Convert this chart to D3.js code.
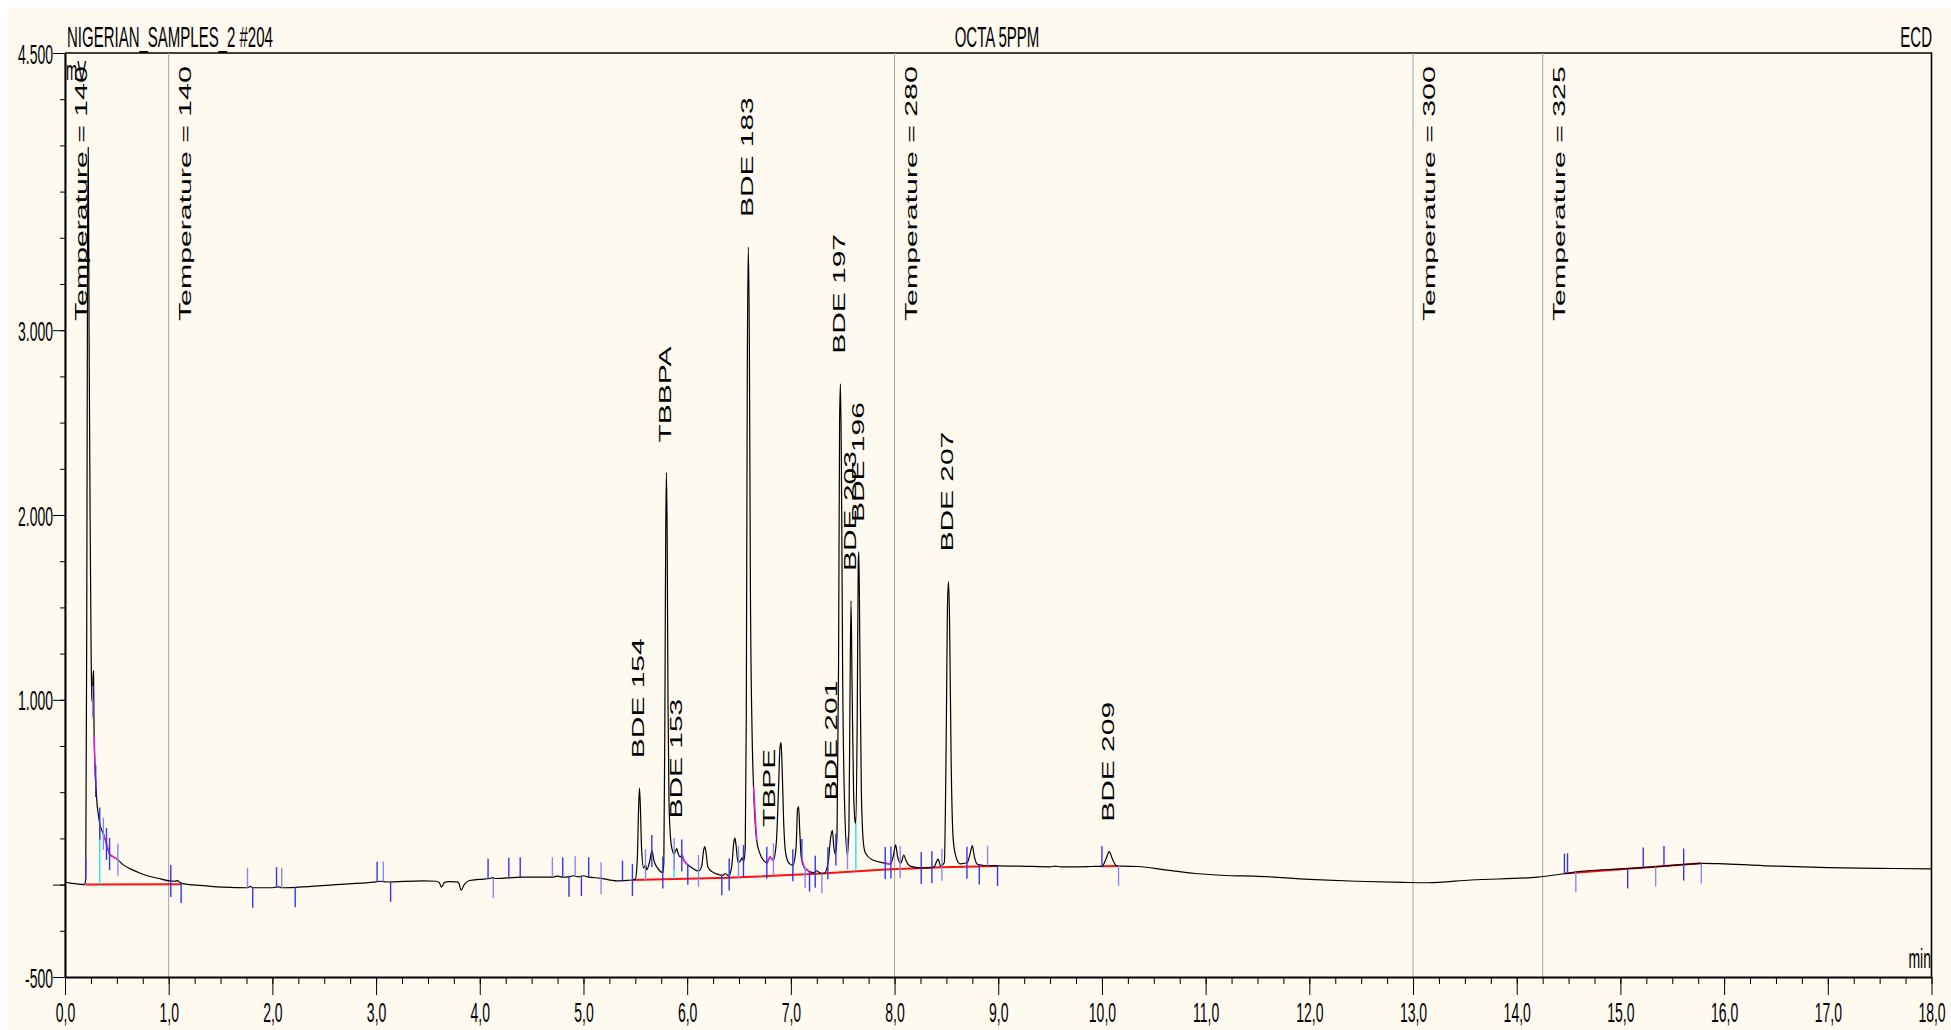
<!DOCTYPE html>
<html>
<head>
<meta charset="utf-8">
<script src="https://cdn.jsdelivr.net/npm/d3@7"></script>
<style>
  body { margin: 0; background: #fff; }
  svg { display: block; }
</style>
</head>
<body>
<div class="chart"></div>
<script>
var W = 1951, H = 1030;

// header texts
var sampleName = "NIGERIAN_SAMPLES_2 #204",
    methodName = "OCTA 5PPM",
    detector = "ECD";

// chromatogram signal [min, mV]
var trace = [
  [0.00, 14], [0.05, 8], [0.11, 4], [0.19, 0],
  [0.200, 30], [0.210, 1500], [0.218, 3500], [0.224, 3990], [0.232, 3000], [0.242, 2000],
  [0.252, 1250], [0.260, 1000], [0.266, 990], [0.270, 1120], [0.275, 1156], [0.280, 850],
  [0.290, 620], [0.300, 520], [0.310, 430], [0.320, 385], [0.335, 330], [0.350, 300],
  [0.370, 275], [0.400, 220], [0.430, 165], [0.470, 148], [0.510, 135], [0.550, 112],
  [0.630, 85], [0.720, 63], [0.820, 44], [0.920, 31], [1.010, 20], [1.060, 18],
  [1.080, 22], [1.120, 8], [1.200, 0], [1.300, -4],
  [1.53, -14], [1.76, -17], [1.79, -10], [1.81, -17], [2.00, -17], [2.06, -12], [2.09, -17],
  [2.25, -14], [2.61, 0], [2.97, 13], [3.04, 18], [3.10, 14], [3.45, 20], [3.58, 18],
  [3.61, 10], [3.63, -14], [3.66, 12], [3.70, 16], [3.78, 15], [3.80, 5], [3.82, -30],
  [3.85, 0], [3.90, 22], [4.00, 28], [4.10, 33], [4.12, 38], [4.15, 33], [4.41, 40],
  [4.70, 40], [4.75, 46], [4.80, 40], [4.86, 42], [4.90, 48], [4.95, 42], [5.00, 48],
  [5.05, 40], [5.16, 35], [5.32, 20], [5.40, 22], [5.47, 25],
  [5.50, 30], [5.52, 150], [5.53, 380], [5.54, 522], [5.55, 400], [5.56, 200], [5.58, 90],
  [5.60, 107], [5.61, 80], [5.64, 130], [5.66, 184], [5.68, 130], [5.72, 85], [5.765, 65],
  [5.775, 120], [5.785, 900], [5.793, 1900], [5.800, 2230], [5.807, 1900], [5.815, 1000],
  [5.825, 450], [5.84, 250], [5.855, 190], [5.874, 165], [5.89, 185], [5.90, 195],
  [5.915, 165], [5.935, 150], [5.95, 158], [5.97, 130], [6.00, 110], [6.05, 90], [6.11, 73],
  [6.14, 100], [6.16, 190], [6.17, 206], [6.18, 180], [6.20, 95], [6.24, 70], [6.30, 55],
  [6.34, 50], [6.37, 60], [6.40, 45], [6.43, 100], [6.45, 230], [6.46, 251], [6.47, 220],
  [6.49, 120], [6.51, 125], [6.53, 145], [6.545, 125], [6.56, 200],
  [6.57, 900], [6.58, 2800], [6.59, 3450], [6.60, 2900], [6.61, 1600], [6.625, 850],
  [6.64, 530], [6.67, 242], [6.70, 170], [6.74, 128], [6.77, 118], [6.80, 150], [6.815, 140],
  [6.83, 130], [6.86, 230], [6.88, 500], [6.895, 740], [6.905, 768], [6.915, 650], [6.93, 350],
  [6.95, 170], [6.98, 118], [7.02, 105], [7.05, 200], [7.065, 410], [7.075, 422], [7.085, 300],
  [7.10, 150], [7.13, 92], [7.18, 70], [7.22, 65], [7.25, 75], [7.28, 62], [7.32, 60],
  [7.36, 120], [7.385, 260], [7.40, 293], [7.415, 200], [7.43, 165],
  [7.445, 260], [7.46, 1200], [7.47, 2500], [7.478, 2710], [7.487, 2300], [7.50, 1100],
  [7.52, 400], [7.545, 160], [7.56, 300], [7.57, 1000], [7.58, 1535], [7.59, 1100],
  [7.605, 500], [7.62, 340], [7.627, 330], [7.64, 900], [7.65, 1750], [7.656, 1800],
  [7.665, 1300], [7.68, 500], [7.70, 224], [7.72, 170], [7.79, 133], [7.89, 118], [7.96, 112],
  [7.99, 160], [8.01, 215], [8.03, 150], [8.06, 115], [8.09, 160], [8.11, 130], [8.15, 100],
  [8.25, 90], [8.38, 95], [8.42, 138], [8.445, 100], [8.48, 120], [8.50, 900], [8.51, 1500],
  [8.52, 1640], [8.53, 1450], [8.545, 700], [8.565, 250], [8.59, 155], [8.63, 112],
  [8.70, 118], [8.73, 170], [8.75, 211], [8.77, 150], [8.80, 110], [8.90, 102], [9.00, 101],
  [9.20, 100], [9.50, 96], [9.55, 100], [9.60, 96], [9.90, 98], [10.00, 99], [10.04, 140],
  [10.07, 178], [10.10, 140], [10.14, 102], [10.20, 100], [10.35, 98], [10.61, 80],
  [10.90, 60], [11.24, 48], [11.46, 46], [12.00, 28], [12.45, 18], [12.90, 12], [13.14, 10],
  [13.56, 25], [14.20, 40], [14.47, 60], [14.60, 70], [15.00, 85], [15.22, 92], [15.60, 108],
  [15.80, 115], [16.00, 112], [16.50, 100], [17.00, 92], [17.50, 88], [18.00, 85]
];

// identified peaks
var peakNames = ["BDE 154", "TBBPA", "BDE 153", "BDE 183", "TBPE", "BDE 201",
                 "BDE 197", "BDE 203", "BDE 196", "BDE 207", "BDE 209"];
var peakTimes = [5.54, 5.80, 5.90, 6.59, 6.80, 7.40, 7.478, 7.58, 7.656, 8.52, 10.07];

// oven program events
var tempTimes = [0.0, 1.0, 8.0, 13.0, 14.25];
var tempLabels = ["Temperature = 140", "Temperature = 140", "Temperature = 280",
                  "Temperature = 300", "Temperature = 325"];

// integration: delimiters, baselines, skims, drop lines
var markerTimes = [0.20, 0.266, 0.296, 0.335, 0.37, 0.40, 0.43, 0.51, 1.02, 1.12, 1.76, 1.81,
  2.04, 2.09, 2.22, 3.01, 3.07, 3.14, 4.08, 4.13, 4.28, 4.39, 4.70, 4.80, 4.86, 4.92, 4.98,
  5.05, 5.17, 5.376, 5.472, 5.598, 5.659, 5.765, 5.874, 5.948, 6.006, 6.109, 6.334, 6.405,
  6.495, 6.543, 6.768, 6.832, 7.019, 7.106, 7.138, 7.18, 7.235, 7.299, 7.357, 7.434, 7.546,
  7.91, 7.965, 8.054, 8.257, 8.36, 8.457, 8.698, 8.817, 8.897, 8.993, 10.0, 10.16, 14.46,
  14.49, 14.57, 15.07, 15.22, 15.34, 15.42, 15.61, 15.78];
var markerKinds = ["s", "b", "b", "b", "b", "b", "b", "b", "b", "e", "s", "e",
  "s", "s", "e", "s", "s", "e", "s", "e", "s", "s", "s", "s", "e", "s", "e",
  "s", "b", "s", "b", "b", "b", "b", "b", "b", "e", "b", "e", "b",
  "b", "b", "b", "b", "b", "s", "e", "e", "b", "e", "b", "b", "b",
  "b", "b", "b", "b", "b", "b", "b", "e", "s", "e", "s", "e", "s",
  "s", "e", "e", "s", "e", "s", "b", "e"];

var baselines = [
  [[0.20, 0], [1.12, 2]],
  [[5.47, 25], [6.40, 37], [7.30, 60], [7.91, 82], [8.46, 94], [8.99, 101]],
  [[10.00, 99], [10.16, 100]],
  [[14.46, 60], [15.78, 115]]
];
var skims = [[0.282, 0.30], [0.37, 0.51], [5.948, 6.006], [6.64, 6.67], [6.768, 6.832],
             [7.106, 7.18], [7.91, 7.965]];
var dropTimes = [0.335, 5.874, 7.627];

// axis ticks
var yMajor = [4500, 3000, 2000, 1000, 0, -500];
var yMinor = d3.range(-500, 4501, 250);
var xMajor = d3.range(0, 18.001, 1);
var xMinor = d3.range(0, 18.001, 0.25);

var svg = d3.select(".chart").append("svg")
    .attr("width", W).attr("height", H);

svg.append("rect")
    .attr("x", 8).attr("y", 7)
    .attr("width", W - 8).attr("height", H - 7)
    .attr("fill", "#fffaf0");

var x = d3.scaleLinear().domain([0, 18]).range([65, 1931.5]);
var y = d3.scaleLinear().domain([-500, 4500]).range([977, 53]);

var narrow = "Liberation Sans, Arial, sans-serif";

function lerp(arr, t) {
    var i = d3.bisector(function (d) { return d[0]; }).left(arr, t);
    if (i <= 0) return arr[0][1];
    if (i >= arr.length) return arr[arr.length - 1][1];
    var a = arr[i - 1], b = arr[i];
    return a[1] + (b[1] - a[1]) * (t - a[0]) / (b[0] - a[0]);
}

// condensed text helper
function ctext(g, px, py, str, size, anchor) {
    return g.append("text")
        .attr("transform", "translate(" + px + "," + py + ") scale(0.5,1)")
        .attr("text-anchor", anchor)
        .style("font-family", narrow)
        .style("font-size", size + "px")
        .attr("fill", "#000")
        .text(str);
}

// header
ctext(svg, 67, 47, sampleName, 30, "start");
ctext(svg, 997, 47, methodName, 30, "middle");
ctext(svg, 1932, 47, detector, 30, "end");

// frame top/right
svg.append("path")
    .attr("d", "M" + x(0) + "," + y(4500) + "H" + x(18) + "V" + y(-500))
    .attr("fill", "none").attr("stroke", "#000").attr("stroke-width", 1.6);

// temperature event lines
svg.append("g").selectAll("line")
    .data(tempTimes)
    .enter().append("line")
    .attr("x1", function (d) { return x(d); })
    .attr("x2", function (d) { return x(d); })
    .attr("y1", y(4500)).attr("y2", y(-500))
    .attr("stroke", "#a0a0a0").attr("stroke-width", 1);

// axes
var fmtY = d3.formatLocale({decimal: ",", thousands: ".", grouping: [3], currency: ["", ""], minus: "-"}).format(",");

var xAxis = svg.append("g")
    .attr("transform", "translate(0," + y(-500) + ")")
    .call(d3.axisBottom(x).tickValues(xMajor).tickSize(18).tickSizeOuter(0)
        .tickFormat(function (d) { return d.toFixed(1).replace(".", ","); }));
xAxis.select(".domain").attr("stroke-width", 2);
xAxis.selectAll(".tick text")
    .attr("y", 45).attr("dy", null)
    .attr("transform", "scale(0.5,1)")
    .style("font-family", narrow).style("font-size", "28px").attr("fill", "#000");

var xAxisMinor = svg.append("g")
    .attr("transform", "translate(0," + y(-500) + ")")
    .call(d3.axisBottom(x).tickValues(xMinor).tickSize(7).tickSizeOuter(0).tickFormat(""));
xAxisMinor.select(".domain").remove();

var yAxis = svg.append("g")
    .attr("transform", "translate(" + x(0) + ",0)")
    .call(d3.axisLeft(y).tickValues(yMajor).tickSize(12).tickSizeOuter(0)
        .tickFormat(function (d) { return d === 0 ? "" : fmtY(d); }));
yAxis.select(".domain").attr("stroke-width", 2);
yAxis.selectAll(".tick text")
    .attr("x", -24).attr("dy", "0.36em")
    .attr("transform", "scale(0.5,1)")
    .style("font-family", narrow).style("font-size", "28px").attr("fill", "#000");

var yAxisMinor = svg.append("g")
    .attr("transform", "translate(" + x(0) + ",0)")
    .call(d3.axisLeft(y).tickValues(yMinor).tickSize(5).tickSizeOuter(0).tickFormat(""));
yAxisMinor.select(".domain").remove();

ctext(svg, 66, 80, "mV", 27, "start");
ctext(svg, 1931, 968, "min", 28, "end");

// temperature labels (stretched, vertical)
svg.append("g").selectAll("g")
    .data(tempTimes)
    .enter().append("g")
    .attr("transform", function (d) {
        return "translate(" + (x(d) + 22) + ",321) rotate(-90) scale(1.78,1)";
    })
    .append("text")
    .style("font-family", narrow).style("font-size", "17px")
    .attr("fill", "#000")
    .text(function (d, i) { return tempLabels[i]; });

// integration baselines
var line = d3.line()
    .x(function (d) { return x(d[0]); })
    .y(function (d) { return y(d[1]); });

svg.append("g").selectAll("path")
    .data(baselines)
    .enter().append("path")
    .attr("d", line)
    .attr("fill", "none").attr("stroke", "#ff1010").attr("stroke-width", 2);

// signal
svg.append("path")
    .datum(trace)
    .attr("d", line.curve(d3.curveMonotoneX))
    .attr("fill", "none")
    .attr("stroke", "#000")
    .attr("stroke-width", 1.2)
    .attr("stroke-linejoin", "round");
line.curve(d3.curveLinear);

// skims
svg.append("g").selectAll("path")
    .data(skims)
    .enter().append("path")
    .attr("d", function (s) {
        var pts = [[s[0], lerp(trace, s[0])]];
        trace.forEach(function (p) { if (p[0] > s[0] && p[0] < s[1]) pts.push(p); });
        pts.push([s[1], lerp(trace, s[1])]);
        return line(pts);
    })
    .attr("fill", "none").attr("stroke", "#e020e0").attr("stroke-width", 1.5);

// drop lines
function baseAt(t) {
    for (var i = 0; i < baselines.length; i++) {
        var b = baselines[i];
        if (t >= b[0][0] && t <= b[b.length - 1][0]) return lerp(b, t);
    }
    return 0;
}
svg.append("g").selectAll("line")
    .data(dropTimes)
    .enter().append("line")
    .attr("x1", function (d) { return x(d); })
    .attr("x2", function (d) { return x(d); })
    .attr("y1", function (d) { return y(baseAt(d)); })
    .attr("y2", function (d) { return y(lerp(trace, d)); })
    .attr("stroke", "#00e0f0").attr("stroke-width", 1.2);

// peak delimiters
svg.append("g").selectAll("line")
    .data(markerTimes)
    .enter().append("line")
    .attr("x1", function (d) { return x(d); })
    .attr("x2", function (d) { return x(d); })
    .attr("y1", function (d, i) {
        var k = markerKinds[i], yy = y(lerp(trace, d));
        return k === "e" ? yy : yy - (k === "s" ? 20 : 16);
    })
    .attr("y2", function (d, i) {
        var k = markerKinds[i], yy = y(lerp(trace, d));
        return k === "s" ? yy : yy + (k === "e" ? 20 : 16);
    })
    .attr("stroke", function (d, i) { return i % 3 === 1 ? "#8888f4" : "#3434f0"; })
    .attr("stroke-width", 1.4);

// peak names
svg.append("g").selectAll("g")
    .data(peakTimes)
    .enter().append("g")
    .attr("transform", function (d) {
        var top = d3.max(trace.filter(function (p) { return Math.abs(p[0] - d) <= 0.015; }),
            function (p) { return p[1]; });
        return "translate(" + (x(d) + 5) + "," + (y(top) - 30) + ") rotate(-90) scale(1.76,1)";
    })
    .append("text")
    .style("font-family", narrow).style("font-size", "17px")
    .attr("fill", "#000")
    .text(function (d, i) { return peakNames[i]; });
</script>
</body>
</html>
